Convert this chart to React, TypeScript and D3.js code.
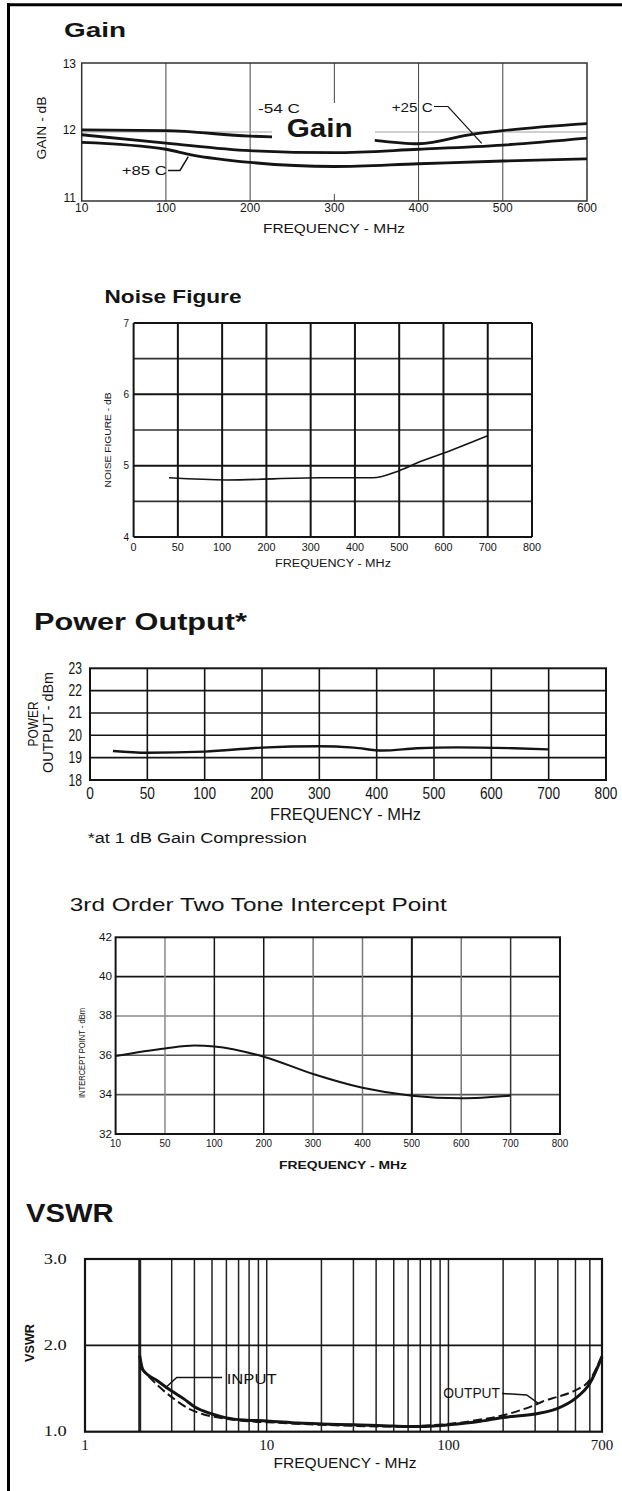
import React from 'react';
import * as d3 from 'd3';

// ---- Gain ----
const gainFreqTicks = [10, 100, 200, 300, 400, 500, 600];
const gainDbTicks = [11, 12, 13];
const gainM54Freq = [10, 100, 200, 226, 290, 348, 400, 465, 500, 600];
const gainM54 = [12.03, 12.02, 11.94, 11.93, null, 11.88, 11.83, 11.97, 12.02, 12.12];
const gainP25Freq = [10, 100, 200, 300, 400, 500, 600];
const gainP25 = [11.96, 11.84, 11.73, 11.7, 11.75, 11.81, 11.91];
const gainP85Freq = [10, 100, 130, 200, 300, 400, 500, 600];
const gainP85 = [11.85, 11.75, 11.67, 11.56, 11.5, 11.54, 11.58, 11.61];

// ---- Noise Figure ----
const noiseFreqTicks = [0, 50, 100, 200, 300, 400, 500, 600, 700, 800];
const noiseGridDb = [4, 4.5, 5, 5.5, 6, 6.5, 7];
const noiseLabelDb = [4, 5, 6, 7];
const noiseFreq = [40, 110, 320, 440, 500, 545, 615, 700];
const noiseDb = [4.83, 4.8, 4.83, 4.83, 4.93, 5.05, 5.21, 5.42];

// ---- Power Output ----
const powerFreqTicks = [0, 50, 100, 200, 300, 400, 500, 600, 700, 800];
const powerDbmTicks = [18, 19, 20, 21, 22, 23];
const powerFreq = [20, 50, 100, 200, 300, 360, 410, 470, 540, 640, 700];
const powerDbm = [19.3, 19.22, 19.27, 19.45, 19.51, 19.45, 19.32, 19.42, 19.46, 19.42, 19.37];

// ---- 3rd order intercept ----
const ipFreqTicks = [10, 50, 100, 200, 300, 400, 500, 600, 700, 800];
const ipDbmTicks = [32, 34, 36, 38, 40, 42];
const ipFreq = [10, 50, 80, 100, 200, 300, 400, 500, 600, 700];
const ipDbm = [35.97, 36.35, 36.5, 36.45, 35.93, 35.05, 34.35, 33.95, 33.82, 33.95];

// ---- VSWR ----
const vswrFreqLabels = [1, 10, 100, 700];
const vswrTicks = [1, 2, 3];
const vswrInputFreq = [2, 2.08, 2.5, 3, 3.5, 4, 5, 6, 7.5, 10, 15, 20, 30, 50, 70, 100, 150, 200, 300, 400, 500, 600, 700];
const vswrInput = [1.88, 1.72, 1.59, 1.47, 1.38, 1.29, 1.205, 1.16, 1.135, 1.125, 1.1, 1.09, 1.08, 1.065, 1.06, 1.08, 1.12, 1.165, 1.205, 1.27, 1.385, 1.56, 1.87];
const vswrOutputFreq = [2, 2.5, 3, 3.7, 4.5, 6, 8, 10, 20, 50, 100, 150, 200, 250, 300, 330, 400, 500, 600, 700];
const vswrOutput = [1.75, 1.54, 1.4, 1.27, 1.2, 1.15, 1.12, 1.11, 1.08, 1.06, 1.09, 1.14, 1.19, 1.25, 1.31, 1.35, 1.405, 1.48, 1.6, 1.88];

const SANS = '"Liberation Sans", Arial, sans-serif';
const SERIF = '"Liberation Serif", "Times New Roman", serif';
const INK = '#141414';

// evenly spaced tick positions, like the hand drawn charts
const stepScale = (ticks: number[], x0: number, x1: number) =>
  d3.scaleLinear().domain(ticks).range(ticks.map((_, i) => x0 + (i * (x1 - x0)) / (ticks.length - 1)));

const zip = (xs: number[], ys: (number | null)[]) => xs.map((x, i) => [x, ys[i]] as [number, number | null]);

const T = ({ x, y, children, size = 12, weight = 'normal', anchor = 'start', len, rotate = 0, family = SANS, baseline }: any) => (
  <text
    x={x}
    y={y}
    fontSize={size}
    fontWeight={weight}
    textAnchor={anchor}
    fontFamily={family}
    fill={INK}
    textLength={len}
    lengthAdjust={len ? 'spacingAndGlyphs' : undefined}
    dominantBaseline={baseline}
    transform={rotate ? `rotate(${rotate},${x},${y})` : undefined}
  >
    {children}
  </text>
);

const pathOf = (sx: any, sy: any, pts: [number, number | null][]) =>
  d3
    .line<[number, number | null]>()
    .defined((d) => d[1] != null)
    .x((d) => sx(d[0]))
    .y((d) => sy(d[1] as number))
    .curve(d3.curveMonotoneX)(pts) || '';

const GainChart = () => {
  const x = stepScale(gainFreqTicks, 81.7, 587);
  const y = d3.scaleLinear().domain([11, 13]).range([201, 63]);
  return (
    <g>
      <T x={64} y={37} size={20} weight="bold" len={62}>Gain</T>
      {gainFreqTicks.slice(1, -1).map((f) =>
        f === 300 ? (
          <g key={f}>
            <line x1={x(f)} x2={x(f)} y1={y(13)} y2={y(12.42)} stroke="#444" strokeWidth={1} />
            <line x1={x(f)} x2={x(f)} y1={y(11.1)} y2={y(11)} stroke="#444" strokeWidth={1} />
          </g>
        ) : (
          <line key={f} x1={x(f)} x2={x(f)} y1={y(13)} y2={y(11)} stroke="#444" strokeWidth={1} />
        )
      )}
      <line x1={x(10)} x2={x(600)} y1={y(12)} y2={y(12)} stroke="#a0a0a0" strokeWidth={1.2} />
      <rect x={x(10)} y={y(13)} width={x(600) - x(10)} height={y(11) - y(13)} fill="none" stroke="#333" strokeWidth={1.5} />
      <rect x={272} y={116} width={103} height={25} fill="#fff" />
      <T x={286.7} y={137} size={25} weight="bold" len={66}>Gain</T>
      <path d={pathOf(x, y, zip(gainM54Freq, gainM54))} fill="none" stroke={INK} strokeWidth={2.8} />
      <path d={pathOf(x, y, zip(gainP25Freq, gainP25))} fill="none" stroke={INK} strokeWidth={2.8} />
      <path d={pathOf(x, y, zip(gainP85Freq, gainP85))} fill="none" stroke={INK} strokeWidth={2.8} />
      <T x={258} y={113} size={12} len={42}>-54 C</T>
      <T x={391.7} y={111.5} size={12} len={41}>+25 C</T>
      <polyline points="434,106.5 448,106.5 481.7,143.3" fill="none" stroke={INK} strokeWidth={1.2} />
      <T x={121.7} y={175} size={12} len={45}>+85 C</T>
      <polyline points="168,170.5 180,170.5 188.3,156.7" fill="none" stroke={INK} strokeWidth={1.5} />
      {gainDbTicks.map((v) => (
        <T key={v} x={76} y={v === 12 ? y(v) - 2 : v === 11 ? y(v) - 3 : y(v) + 1} size={12} anchor="end" baseline="central">{v}</T>
      ))}
      {gainFreqTicks.map((f) => (
        <T key={f} x={x(f)} y={208} size={12} anchor="middle" baseline="central">{f}</T>
      ))}
      <T x={42} y={128} size={12} anchor="middle" baseline="central" rotate={-90} len={63}>GAIN - dB</T>
      <T x={334} y={233} size={13} anchor="middle" len={142}>FREQUENCY - MHz</T>
    </g>
  );
};

const NoiseChart = () => {
  const x = stepScale(noiseFreqTicks, 133.6, 532);
  const y = d3.scaleLinear().domain([4, 7]).range([537, 323]);
  return (
    <g>
      <T x={104.5} y={303} size={18} weight="bold" len={137}>Noise Figure</T>
      {noiseGridDb.map((v) => (
        <line key={v} x1={x(0)} x2={x(800)} y1={y(v)} y2={y(v)} stroke={v % 1 ? '#333' : INK} strokeWidth={v % 1 ? 1.6 : 2} />
      ))}
      {noiseFreqTicks.map((f) => (
        <line key={f} x1={x(f)} x2={x(f)} y1={y(7)} y2={y(4)} stroke={INK} strokeWidth={2} />
      ))}
      <path d={pathOf(x, y, zip(noiseFreq, noiseDb))} fill="none" stroke={INK} strokeWidth={1.6} />
      {noiseLabelDb.map((v) => (
        <T key={v} x={129} y={y(v)} size={10} anchor="end" baseline="central">{v}</T>
      ))}
      {noiseFreqTicks.map((f) => (
        <T key={f} x={x(f)} y={547} size={10} anchor="middle" baseline="central" len={String(f).length * 6}>{f}</T>
      ))}
      <T x={107.6} y={440} size={9} anchor="middle" baseline="central" rotate={-90} len={95}>NOISE FIGURE - dB</T>
      <T x={333} y={567} size={10} anchor="middle" len={116}>FREQUENCY - MHz</T>
    </g>
  );
};

const PowerChart = () => {
  const x = stepScale(powerFreqTicks, 90, 606);
  const y = d3.scaleLinear().domain([18, 23]).range([780, 668.3]);
  return (
    <g>
      <T x={34} y={630} size={24} weight="bold" len={213}>Power Output*</T>
      {powerDbmTicks.slice(1, -1).map((v) => (
        <line key={v} x1={x(0)} x2={x(800)} y1={y(v)} y2={y(v)} stroke={INK} strokeWidth={1.6} />
      ))}
      {powerFreqTicks.slice(1, -1).map((f) => (
        <line key={f} x1={x(f)} x2={x(f)} y1={y(23)} y2={y(18)} stroke={INK} strokeWidth={1.6} />
      ))}
      <rect x={x(0)} y={y(23)} width={x(800) - x(0)} height={y(18) - y(23)} fill="none" stroke={INK} strokeWidth={2} />
      <path d={pathOf(x, y, zip(powerFreq, powerDbm))} fill="none" stroke={INK} strokeWidth={2.4} />
      {powerDbmTicks.map((v) => (
        <T key={v} x={82} y={y(v)} size={16} anchor="end" baseline="central" len={13.4}>{v}</T>
      ))}
      {powerFreqTicks.map((f) => (
        <T key={f} x={x(f)} y={793} size={16} anchor="middle" baseline="central" len={String(f).length * 7.6}>{f}</T>
      ))}
      <T x={33.3} y={724} size={14} anchor="middle" baseline="central" rotate={-90} len={45}>POWER</T>
      <T x={48.3} y={722.5} size={14} anchor="middle" baseline="central" rotate={-90} len={101}>OUTPUT - dBm</T>
      <T x={345.5} y={820} size={16} anchor="middle" len={151}>FREQUENCY - MHz</T>
      <T x={87.7} y={843} size={14} len={219}>*at 1 dB Gain Compression</T>
    </g>
  );
};

const InterceptChart = () => {
  const x = stepScale(ipFreqTicks, 115.6, 560);
  const y = d3.scaleLinear().domain([32, 42]).range([1134, 937.3]);
  const hStroke: Record<number, string> = { 34: '#555', 36: '#555', 38: '#8a8a8a', 40: INK };
  const vStroke: Record<number, string> = { 50: '#8a8a8a', 100: INK, 200: INK, 300: '#777', 400: '#777', 500: INK, 600: '#777', 700: '#333' };
  return (
    <g>
      <T x={69.8} y={911} size={19} len={377}>3rd Order Two Tone Intercept Point</T>
      {ipDbmTicks.slice(1, -1).map((v) => (
        <line key={v} x1={x(10)} x2={x(800)} y1={y(v)} y2={y(v)} stroke={hStroke[v]} strokeWidth={1.6} />
      ))}
      {ipFreqTicks.slice(1, -1).map((f) => (
        <line key={f} x1={x(f)} x2={x(f)} y1={y(42)} y2={y(32)} stroke={vStroke[f]} strokeWidth={f === 500 ? 2 : 1.5} />
      ))}
      <rect x={x(10)} y={y(42)} width={x(800) - x(10)} height={y(32) - y(42)} fill="none" stroke={INK} strokeWidth={2} />
      <path d={pathOf(x, y, zip(ipFreq, ipDbm))} fill="none" stroke={INK} strokeWidth={2} />
      {ipDbmTicks.map((v) => (
        <T key={v} x={112} y={y(v)} size={10} anchor="end" baseline="central" len={13}>{v}</T>
      ))}
      {ipFreqTicks.map((f) => (
        <T key={f} x={x(f)} y={1143} size={10} anchor="middle" baseline="central" len={String(f).length * 5.5}>{f}</T>
      ))}
      <T x={81.7} y={1053} size={9} anchor="middle" baseline="central" rotate={-90} len={90}>INTERCEPT POINT - dBm</T>
      <T x={343} y={1169} size={10} weight="bold" anchor="middle" len={128}>FREQUENCY - MHz</T>
    </g>
  );
};

const VswrChart = () => {
  const x = d3.scaleLog().domain([1, 700]).range([85, 602]);
  const y = d3.scaleLinear().domain([1, 3]).range([1431.7, 1259]);
  const grid = x.ticks().filter((f) => f > 1 && f < 700);
  return (
    <g>
      <T x={26} y={1221.7} size={26} weight="bold" len={87.6}>VSWR</T>
      {grid.map((f) => (
        <line key={f} x1={x(f)} x2={x(f)} y1={y(3)} y2={y(1)} stroke="#222" strokeWidth={f === 2 ? 3 : 1.5} />
      ))}
      <line x1={x(1)} x2={x(700)} y1={y(2)} y2={y(2)} stroke={INK} strokeWidth={1.6} />
      <rect x={x(1)} y={y(3)} width={x(700) - x(1)} height={y(1) - y(3)} fill="none" stroke={INK} strokeWidth={2.2} />
      <path d={pathOf(x, y, zip(vswrOutputFreq, vswrOutput))} fill="none" stroke={INK} strokeWidth={2} strokeDasharray="9,4" />
      <path d={pathOf(x, y, zip(vswrInputFreq, vswrInput))} fill="none" stroke={INK} strokeWidth={3} />
      <T x={226.7} y={1384} size={14} len={50}>INPUT</T>
      <polyline points="222,1377.5 176.7,1377.5 165,1388.3" fill="none" stroke={INK} strokeWidth={1.5} />
      <T x={443.3} y={1398} size={14} len={56.7}>OUTPUT</T>
      <polyline points="502,1393.5 526.7,1395 538.3,1403.3" fill="none" stroke={INK} strokeWidth={1.5} />
      {vswrTicks.map((v) => (
        <T key={v} x={66.7} y={y(v)} size={14} family={SERIF} anchor="end" baseline="central" len={23}>{v.toFixed(1)}</T>
      ))}
      {vswrFreqLabels.map((f) => (
        <T key={f} x={x(f)} y={1445} size={14} family={SERIF} anchor="middle" baseline="central" len={String(f).length * 7.5}>{f}</T>
      ))}
      <T x={30} y={1343} size={12} weight="bold" anchor="middle" baseline="central" rotate={-90} len={38}>VSWR</T>
      <T x={345} y={1468} size={14} anchor="middle" len={143}>FREQUENCY - MHz</T>
    </g>
  );
};

export default function App() {
  return (
    <svg width={622} height={1491} style={{ position: 'absolute', left: 0, top: 0, background: '#fff' }}>
      <rect x={0} y={0} width={622} height={1491} fill="#fff" />
      <line x1={8.5} x2={8.5} y1={3.2} y2={1491} stroke="#000" strokeWidth={3} />
      <line x1={7} x2={622} y1={4.7} y2={4.7} stroke="#000" strokeWidth={3} />
      <GainChart />
      <NoiseChart />
      <PowerChart />
      <InterceptChart />
      <VswrChart />
    </svg>
  );
}
